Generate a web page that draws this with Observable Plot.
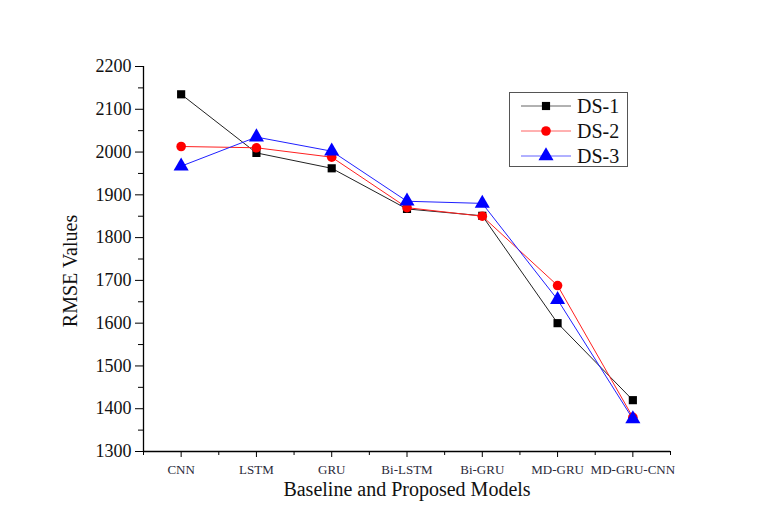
<!DOCTYPE html>
<html>
<head>
<meta charset="utf-8">
<script src="https://cdn.jsdelivr.net/npm/d3@7"></script>
<script src="https://cdn.jsdelivr.net/npm/@observablehq/plot@0.6"></script>
<style>
  html, body { margin: 0; padding: 0; background: #ffffff; }
  #wrap { position: relative; width: 761px; height: 532px; }
  #legend {
    position: absolute; left: 509px; top: 92px; width: 117px; height: 73px;
    border: 1px solid #555; background: #fff; box-sizing: content-box;
    font-family: "Liberation Serif", "Times New Roman", serif; font-size: 20px; color: #111;
  }
  .item { position: absolute; left: 10px; height: 24px; display: flex; align-items: center; }
  .item svg { display: block; }
  .item span { margin-left: 5px; }
</style>
</head>
<body>
<div id="wrap"><div id="legend"></div></div>
<script>
const categories = ["CNN", "LSTM", "GRU", "Bi-LSTM", "Bi-GRU", "MD-GRU", "MD-GRU-CNN"];
const seriesNames = ["DS-1", "DS-2", "DS-3"];
const ds1 = [2135, 1998, 1962, 1867, 1851, 1600, 1420];
const ds2 = [2013, 2010, 1988, 1870, 1850, 1688, 1380];
const ds3 = [1967, 2035, 2002, 1885, 1880, 1655, 1376];
const yTicks = [1300, 1400, 1500, 1600, 1700, 1800, 1900, 2000, 2100, 2200];
const yMinorTicks = [1350, 1450, 1550, 1650, 1750, 1850, 1950, 2050, 2150];
const xLabel = "Baseline and Proposed Models";
const yLabel = "RMSE Values";

const colors = ["#000000", "#ff0000", "#0000ff"];
const symbols = ["square", "circle", "triangle"];
const sizes = [4.6, 4.8, 5.6];
const lineColors = ["#222222", "#ff2020", "#2020ff"];

const allSeries = [ds1, ds2, ds3];
const data = [];
allSeries.forEach((vals, s) => vals.forEach((v, i) => data.push({series: seriesNames[s], s, i, value: v})));

const xMajor = categories.map((_, i) => i);
const xMinor = d3.range(-0.5, categories.length, 1);

const font = "'Liberation Serif', 'Times New Roman', serif";

const marks = [];
// axes
marks.push(Plot.axisY({ticks: yTicks, tickFormat: d3.format("d"), tickSize: 8, tickPadding: 4, fontSize: 18, label: null, stroke: "#000", color: "#111"}));
marks.push(Plot.axisY({ticks: yMinorTicks, tickSize: 5, tickFormat: () => "", label: null, stroke: "#000"}));
marks.push(Plot.axisX({ticks: xMajor, tickFormat: i => categories[i], tickSize: 6, tickPadding: 7, fontSize: 13, label: null, stroke: "#000", color: "#2a2a3a"}));
marks.push(Plot.axisX({ticks: xMinor, tickSize: 4, tickFormat: () => "", label: null, stroke: "#000"}));
marks.push(Plot.ruleY([yTicks[0]], {stroke: "#000", strokeWidth: 1.3}));
marks.push(Plot.ruleX([xMinor[0]], {stroke: "#000", strokeWidth: 1.3}));
// series
seriesNames.forEach((name, s) => {
  const d = data.filter(r => r.s === s);
  marks.push(Plot.line(d, {x: "i", y: "value", stroke: lineColors[s], strokeWidth: 1}));
  marks.push(Plot.dot(d, {x: "i", y: "value", symbol: () => symbols[s], fill: colors[s], stroke: "none", r: sizes[s]}));
});
// labels
marks.push(Plot.text([xLabel], {frameAnchor: "bottom", textAnchor: "middle", dy: 44, fontSize: 20, fill: "#111"}));
marks.push(Plot.text([yLabel], {frameAnchor: "left", textAnchor: "middle", rotate: -90, dx: -73, dy: 12, fontSize: 20, fill: "#111"}));

const chart = Plot.plot({
  width: 761,
  height: 532,
  marginTop: 66,
  marginBottom: 81,
  marginLeft: 143,
  marginRight: 91,
  style: {fontFamily: font, background: "#fff"},
  x: {type: "linear", domain: [-0.5, categories.length - 0.5], axis: null},
  y: {domain: [yTicks[0], yTicks[yTicks.length - 1]], axis: null},
  marks
});
document.getElementById("wrap").prepend(chart);
chart.style.position = "absolute";
chart.style.left = "0";
chart.style.top = "0";

// legend
const legend = document.getElementById("legend");
seriesNames.forEach((name, s) => {
  const item = document.createElement("div");
  item.className = "item";
  item.style.top = (1 + s * 25) + "px";
  const svg = d3.create("svg").attr("width", 52).attr("height", 20);
  svg.append("line").attr("x1", 1).attr("x2", 51).attr("y1", 10).attr("y2", 10)
     .attr("stroke", lineColors[s]).attr("stroke-width", 1).attr("stroke-opacity", 0.7);
  svg.append("path").attr("transform", "translate(26,10)")
     .attr("d", d3.symbol(s === 0 ? d3.symbolSquare : s === 1 ? d3.symbolCircle : d3.symbolTriangle, Math.PI * sizes[s] * sizes[s])())
     .attr("fill", colors[s]);
  item.appendChild(svg.node());
  const label = document.createElement("span");
  label.textContent = name;
  item.appendChild(label);
  legend.appendChild(item);
});
</script>
</body>
</html>
